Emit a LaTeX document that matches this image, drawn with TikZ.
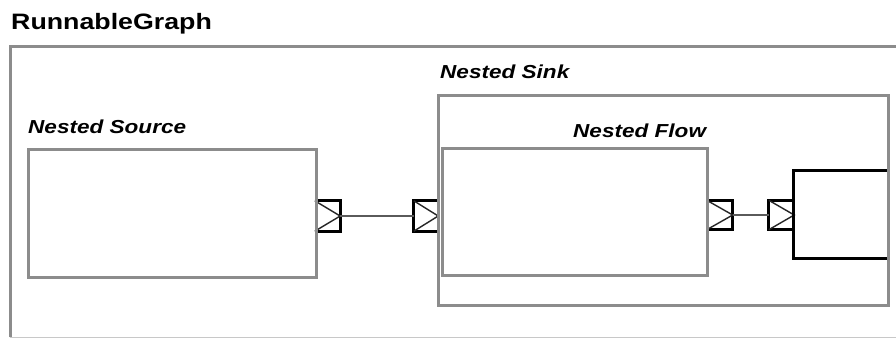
\documentclass[tikz,border=0pt]{standalone}
\usepackage{fontspec}
\newfontfamily\labfont[FakeStretch=1.2]{Liberation Sans}
\definecolor{boxgray}{RGB}{140,140,140}
\definecolor{lightgray2}{RGB}{200,200,200}
\definecolor{conngray}{RGB}{90,90,90}
\begin{document}
\begin{tikzpicture}[x=1pt,y=-1pt,
  box/.style={draw=boxgray,line width=3pt,rectangle,inner sep=0pt,fill=none},
  portnode/.style={rectangle,inner sep=0pt,minimum width=25pt,minimum height=30pt},
  portline/.style={draw=black,line width=3pt,line join=miter},
  tri/.style={draw=black!85,line width=1.4pt},
  conn/.style={draw=conngray,line width=1.4pt},
  lab/.style={inner sep=0pt,anchor=base west,font=\labfont\bfseries\itshape\fontsize{18.8}{20}\selectfont},
  titlelab/.style={inner sep=0pt,anchor=base west,font=\labfont\bfseries\fontsize{22.3}{24}\selectfont}
]
\useasboundingbox (0,0) rectangle (896,338);
\fill[white] (0,0) rectangle (896,338);

% title
\node[titlelab] (title) at (11,29) {RunnableGraph};

% outer graph frame
\node[rectangle,inner sep=0pt,minimum width=900pt,minimum height=290.5pt,anchor=north west] (graph) at (10.5,46.5) {};
\draw[lightgray2,line width=1pt] (graph.north west) rectangle (graph.south east);
\draw[boxgray,line width=3pt] (graph.south west) -- (graph.north west) -- (graph.north east);

% ports
\node[portnode,minimum width=25pt] (p1) at (327.5,216) {};
\draw[portline] (p1.north west) -- (p1.north east) -- (p1.south east) -- (p1.south west);
\draw[tri] (p1.north west) -- (p1.east) -- (p1.south west);

\node[portnode,minimum width=24pt] (p2) at (426,216) {};
\draw[portline] (p2.north east) -- (p2.north west) -- (p2.south west) -- (p2.south east);
\draw[tri] (p2.north west) -- (p2.east) -- (p2.south west);

\node[portnode,minimum width=25.5pt,minimum height=29pt] (p3) at (719.75,215) {};
\draw[portline] (p3.north west) -- (p3.north east) -- (p3.south east) -- (p3.south west);
\draw[tri] (p3.north west) -- (p3.east) -- (p3.south west);

\node[portnode,minimum width=25pt,minimum height=29pt] (p4) at (781.5,215) {};
\draw[portline] (p4.north east) -- (p4.north west) -- (p4.south west) -- (p4.south east);
\draw[tri] (p4.north west) -- (p4.east) -- (p4.south west);

% inner sink block
\node[rectangle,inner sep=0pt,minimum width=94pt,minimum height=88pt] (isink) at (841,214.5) {};
\draw[portline] (isink.north east) -- (isink.north west) -- (isink.south west) -- (isink.south east);

% gray boxes
\node[box,minimum width=288pt,minimum height=128pt] (src) at (172,213) {};
\node[box,minimum width=450pt,minimum height=210pt] (sink) at (663,200) {};
\node[box,minimum width=265pt,minimum height=126.5pt] (flow) at (574.5,211.75) {};

% labels
\node[lab] (srclab) at (28,133) {Nested Source};
\node[lab] (sinklab) at (440,78) {Nested Sink};
\node[lab] (flowlab) at (573,137) {Nested Flow};

% connectors
\draw[conn] (p1.east) -- (p2.west);
\draw[conn] (p3.east) -- (p4.west);
\end{tikzpicture}
\end{document}
